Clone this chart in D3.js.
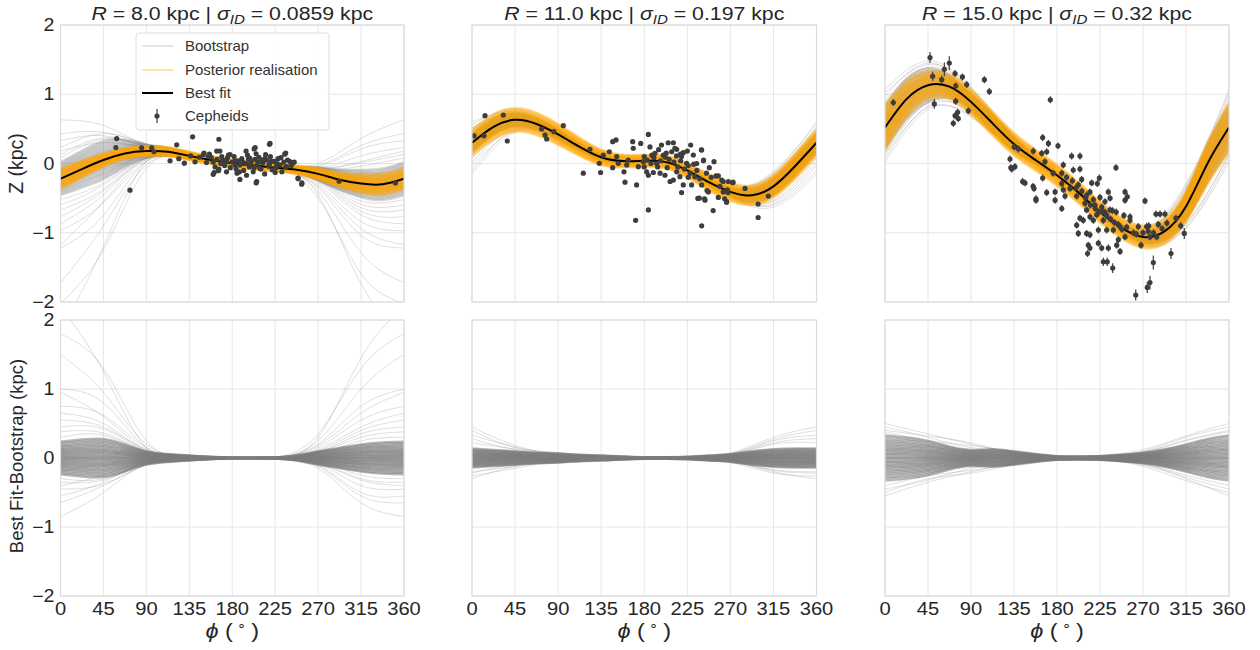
<!DOCTYPE html>
<html>
<head>
<meta charset="utf-8">
<script src="https://cdn.jsdelivr.net/npm/d3@7"></script>
<style>
  body { margin: 0; background: #fff; }
  svg { display: block; font-family: "Liberation Sans", Arial, sans-serif; }
</style>
</head>
<body>
<svg id="chart" width="1260" height="650"></svg>
<script>
// ---- azimuth grids ----
const phiKnots = [0, 22.5, 45, 67.5, 90, 112.5, 135, 157.5, 180, 202.5, 225, 247.5, 270, 292.5, 315, 337.5, 360];
const phiCoarse = [0, 45, 90, 135, 180, 225, 270, 315, 360];
const phiTicks = [0, 45, 90, 135, 180, 225, 270, 315, 360];
const zTicks = [-2, -1, 0, 1, 2];

// ---- ring radius and intrinsic dispersion for each column ----
const radii = ["8.0", "11.0", "15.0"];
const sigmaID = ["0.0859", "0.197", "0.32"];

// ---- best-fit warp Z(phi) in kpc, on phiKnots ----
const bestFit8  = [-0.22, -0.08, 0.05, 0.145, 0.18, 0.17, 0.11, 0.05, 0.005, -0.03, -0.06, -0.09, -0.15, -0.235, -0.29, -0.30, -0.22];
const bestFit11 = [0.30, 0.53, 0.63, 0.57, 0.42, 0.24, 0.09, 0.035, 0.04, 0.02, -0.10, -0.27, -0.41, -0.46, -0.33, -0.04, 0.30];
const bestFit15 = [0.52, 0.93, 1.13, 1.11, 0.89, 0.58, 0.28, 0.05, -0.17, -0.42, -0.70, -0.93, -1.06, -0.98, -0.62, 0.0, 0.52];

// ---- spread of the posterior realisations about the best fit (kpc), on phiKnots ----
const postWidth8  = [0.15, 0.12, 0.09, 0.075, 0.07, 0.065, 0.06, 0.055, 0.055, 0.055, 0.055, 0.06, 0.08, 0.10, 0.13, 0.15, 0.15];
const postWidth11 = [0.19, 0.18, 0.17, 0.16, 0.15, 0.13, 0.11, 0.09, 0.085, 0.09, 0.10, 0.12, 0.13, 0.14, 0.16, 0.18, 0.19];
const postWidth15 = [0.33, 0.26, 0.20, 0.18, 0.18, 0.17, 0.16, 0.15, 0.15, 0.15, 0.15, 0.15, 0.16, 0.18, 0.22, 0.30, 0.36];
const postFractions = [-1, -0.9, -0.8, -0.71, -0.63, -0.56, -0.49, -0.42, -0.35, -0.28, -0.21, -0.14, -0.07, 0,
  0.07, 0.14, 0.21, 0.28, 0.35, 0.42, 0.49, 0.56, 0.63, 0.71, 0.8, 0.9, 1];

// ---- bulk of the bootstrap residuals (best fit - bootstrap), half-width on phiKnots ----
const bootCore8  = [0.24, 0.27, 0.28, 0.20, 0.10, 0.06, 0.04, 0.02, 0.008, 0.008, 0.012, 0.04, 0.10, 0.15, 0.20, 0.23, 0.24];
const bootCore11 = [0.14, 0.12, 0.10, 0.08, 0.07, 0.05, 0.04, 0.025, 0.015, 0.015, 0.02, 0.04, 0.06, 0.10, 0.13, 0.14, 0.14];
const bootCore15 = [0.33, 0.30, 0.25, 0.17, 0.12, 0.13, 0.10, 0.06, 0.03, 0.025, 0.03, 0.05, 0.08, 0.13, 0.20, 0.28, 0.33];
const bootFractions = [-1, -0.92, -0.84, -0.76, -0.69, -0.62, -0.55, -0.48, -0.42, -0.36, -0.3, -0.24, -0.18, -0.12, -0.06, 0,
  0.06, 0.12, 0.18, 0.24, 0.3, 0.36, 0.42, 0.48, 0.55, 0.62, 0.69, 0.76, 0.84, 0.92, 1];

// ---- wider bootstrap residual curves (best fit - bootstrap), on phiCoarse ----
const bootWide8 = [
  [2.2, 1.25, 0.15, 0.01, 0, 0.01, 0.3, 1.45, 2.2],
  [1.8, 1.3, 0.25, 0.02, 0, 0.01, 0.35, 1.3, 1.8],
  [1.5, 0.95, 0.2, 0.02, 0, 0.01, 0.25, 1.0, 1.5],
  [1.0, 0.8, 0.15, 0.02, 0, 0.01, 0.2, 0.75, 1.0],
  [0.95, 0.6, 0.12, 0.01, 0, 0.01, 0.18, 0.65, 0.95],
  [0.75, 0.62, 0.15, 0.02, 0, 0.01, 0.15, 0.55, 0.75],
  [0.65, 0.5, 0.1, 0.01, 0, 0, 0.12, 0.45, 0.65],
  [0.55, 0.45, 0.12, 0.02, 0, 0.01, 0.1, 0.4, 0.55],
  [0.45, 0.42, 0.1, 0.01, 0, 0, 0.08, 0.35, 0.45],
  [0.38, 0.36, 0.1, 0.02, 0, 0.01, 0.08, 0.3, 0.38],
  [0.3, 0.33, 0.09, 0.01, 0, 0, 0.06, 0.25, 0.3],
  [-0.85, -0.5, -0.08, -0.01, 0, -0.01, -0.15, -0.65, -0.85],
  [-0.65, -0.4, -0.1, -0.02, 0, -0.01, -0.12, -0.55, -0.65],
  [-0.55, -0.35, -0.06, -0.01, 0, 0, -0.1, -0.5, -0.55],
  [-0.45, -0.38, -0.1, -0.01, 0, -0.01, -0.08, -0.4, -0.45],
  [-0.4, -0.25, -0.05, -0.01, 0, 0, -0.07, -0.32, -0.4],
  [-0.35, -0.32, -0.08, -0.01, 0, 0, -0.06, -0.3, -0.35],
  [-0.3, -0.3, -0.07, -0.01, 0, 0, -0.05, -0.25, -0.3]
];
const bootWide11 = [
  [0.45, 0.18, 0.06, 0.02, 0, 0.01, 0.07, 0.3, 0.45],
  [0.4, 0.15, 0.08, 0.02, 0, 0.01, 0.06, 0.27, 0.4],
  [0.33, 0.16, 0.05, 0.01, 0, 0.01, 0.05, 0.25, 0.33],
  [0.28, 0.12, 0.06, 0.02, 0, 0.01, 0.05, 0.22, 0.28],
  [0.22, 0.13, 0.05, 0.01, 0, 0, 0.04, 0.2, 0.22],
  [-0.3, -0.12, -0.06, -0.02, 0, -0.01, -0.05, -0.2, -0.3],
  [-0.26, -0.15, -0.05, -0.02, 0, -0.01, -0.06, -0.22, -0.26],
  [-0.22, -0.1, -0.07, -0.01, 0, 0, -0.04, -0.18, -0.22],
  [-0.2, -0.12, -0.04, -0.01, 0, 0, -0.05, -0.17, -0.2]
];
const bootWide15 = [
  [0.5, 0.35, 0.2, 0.08, 0.02, 0.04, 0.12, 0.32, 0.5],
  [0.45, 0.3, 0.15, 0.1, 0.03, 0.03, 0.1, 0.3, 0.45],
  [0.4, 0.32, 0.22, 0.07, 0.02, 0.03, 0.09, 0.26, 0.4],
  [0.38, 0.25, 0.18, 0.09, 0.02, 0.02, 0.08, 0.25, 0.38],
  [-0.55, -0.35, -0.2, -0.08, -0.02, -0.03, -0.1, -0.3, -0.55],
  [-0.5, -0.3, -0.22, -0.1, -0.03, -0.03, -0.12, -0.33, -0.5],
  [-0.45, -0.32, -0.15, -0.07, -0.02, -0.02, -0.08, -0.28, -0.45],
  [-0.4, -0.26, -0.18, -0.09, -0.02, -0.02, -0.09, -0.25, -0.4]
];

// ---- Cepheids: [phi (deg), Z (kpc), optional error (kpc)] ----
const cepheids8 = [
  [58.9, 0.36], [58, 0.23], [72.8, -0.385], [85, 0.226], [95.6, 0.226], [98, 0.17], [114.8, 0.04],
  [121.8, 0.27], [124, 0.07], [129.8, 0.005], [136.4, 0.11], [138.5, 0.385], [141, 0.024], [145.5, 0.09],
  [150.4, 0.15], [153, 0.014], [156, 0.135], [161, -0.13], [166, 0.35], [165.5, -0.105], [167, 0.18],
  [219.6, 0.29], [205.6, -0.26], [188, -0.23], [204, 0.23], [235, 0.135], [244, 0.014], [249, -0.21],
  [253, -0.28], [292, -0.255], [351, -0.28], [149.7, 0.13], [155, 0.1], [160, -0.156], [163.7, 0.18],
  [169, 0.1], [174, 0.026], [177.7, 0.13], [183, -0.02], [187.5, -0.12], [194.5, 0.18], [198.6, 0.075],
  [203, 0.21], [205, -0.28], [209, -0.07], [214.4, 0.075], [219, 0.277], [221, 0.036], [226.6, -0.02],
  [231, 0.084], [236, 0.15], [237, -0.046], [240.6, 0.026], [249, -0.22], [252.8, -0.3],
  [170, 0.05], [172, -0.03], [175, 0.08], [178, -0.06], [180, 0.02], [182, 0.1], [184, -0.08], [186, 0.04],
  [188, -0.02], [190, 0.07], [192, -0.1], [194, 0.0], [196, 0.12], [198, -0.05], [200, 0.03], [202, -0.12],
  [204, 0.06], [206, -0.02], [208, 0.09], [210, -0.08], [212, 0.01], [214, -0.15], [216, 0.05], [218, -0.04],
  [220, 0.1], [222, -0.09], [224, 0.03], [226, -0.06], [228, 0.07], [230, -0.02], [232, -0.12], [234, 0.02],
  [236, -0.05], [238, 0.05], [242, -0.03], [245, 0.02], [160, 0.02], [162, -0.05], [158, 0.09], [164, 0.06],
  [166, -0.08], [168, 0.0], [174, -0.12], [176, 0.12], [185, -0.14], [195, -0.17], [205, 0.14], [215, 0.13],
  [225, -0.13], [197, 0.06], [203, -0.06], [211, 0.05], [219, -0.01], [227, 0.0], [183, 0.04], [191, 0.02],
  [199, -0.01], [207, 0.02]
];
const cepheids11 = [
  [2.1, 0.40], [13.6, 0.69], [12.5, 0.40], [32.7, 0.70], [36.9, 0.325], [72.8, 0.50], [76.3, 0.41],
  [78, 0.354], [85.6, 0.46], [95.4, 0.546], [123.3, 0.205], [116.3, -0.14], [134.4, -0.13], [133, 0.003],
  [137.2, 0.12], [143.5, 0.17], [147, 0.315], [150.5, 0.34], [151.2, 0.1], [147, -0.06], [152.9, 0.003],
  [159.9, -0.27], [158.8, -0.12], [161.7, -0.02], [163.3, 0.05], [167.9, 0.315], [168.5, 0.22], [171, -0.82],
  [172, -0.31], [173.8, -0.046], [176.3, 0.29], [179, 0.026], [184.3, -0.17], [184.3, -0.67],
  [184.3, 0.42], [186, 0.24], [191.2, 0.147], [193, 0.003], [198, 0.267], [199.9, 0.12], [205, 0.30],
  [210.4, 0.30], [208.7, 0.17], [213.9, 0.205], [219, 0.1], [220.8, 0.156], [228.5, 0.267], [231.3, 0.123],
  [234.8, 0], [240, 0.195], [241.8, 0.04], [252.9, 0.026], [255, -0.18], [261, -0.24], [267.8, -0.26],
  [272.4, -0.277], [285.3, -0.36], [309.6, -0.47], [299, -0.585], [299, -0.78], [252, -0.68], [240, -0.9],
  [219, -0.42], [229.5, -0.31], [237.5, -0.50], [243.5, -0.53], [247, -0.41], [257.4, -0.49], [266, -0.55],
  [266.8, -0.38], [210.4, -0.24], [207, -0.26], [201.7, -0.17], [196.5, -0.14], [189.5, -0.13], [182.5, -0.12],
  [213.9, -0.12], [224.3, 0.003], [228, -0.14], [233, -0.19], [245, -0.14], [259, -0.33], [262.6, -0.41],
  [240, -0.31], [220.8, -0.31], [217.3, -0.19], [213.6, 0.11], [217.8, 0.135], [231.7, -0.01], [239.7, 0.197],
  [242, 0.05], [257.4, -0.18], [262.4, -0.26], [267.6, -0.42], [272.8, -0.27], [236, -0.505], [243, -0.51],
  [245.6, -0.39], [264, -0.51], [266, -0.56], [180, 0.1], [183, 0.05], [187, 0.0], [190, 0.08], [194, -0.05],
  [197, 0.04], [202, 0.09], [204, -0.06], [206, 0.06], [211, 0.02], [215, -0.05], [218, 0.04], [222, -0.08],
  [226, -0.03], [180, -0.05], [188, 0.12], [195, 0.2], [203, 0.15], [212, 0.22], [225, 0.18], [235, -0.1],
  [248, -0.06], [250, -0.2], [238, -0.22], [226, -0.2]
];
const cepheids15 = [
  [8.7, 0.88], [47.1, 1.53, 0.08], [49.9, 1.26, 0.07], [51.6, 0.86, 0.07], [59.3, 1.21, 0.06],
  [62.1, 1.36, 0.1], [67.3, 1.45, 0.1], [73.3, 1.30], [74, 1.12], [74, 0.90], [81, 1.25], [85.5, 1.14],
  [76, 0.74], [73.3, 0.69], [76.7, 0.65], [71.5, 0.58], [87.2, 0.76], [104, 1.21], [109.2, 1.04],
  [135.3, 0.24], [139.5, 0.21], [130.8, 0.065], [155.2, 0.18], [173, 0.92], [131.7, -0.06], [144, -0.26],
  [155, -0.33], [158, -0.51], [165, 0.375], [171, 0.29], [181, 0.255], [136, -0.046], [132.6, -0.08],
  [164, 0.147], [169.2, 0.17], [167.4, 0.026], [165, -0.21], [146.5, -0.28], [155.9, -0.36], [158, -0.53],
  [169.2, -0.42], [176, -0.14], [178, -0.53], [185, -0.14], [186.6, -0.02], [195.3, 0.108], [204, 0.108],
  [197, -0.094], [204, -0.08], [205.8, -0.23], [202.3, -0.31], [193.6, -0.36], [188.4, -0.47], [185, -0.65],
  [200.6, -0.47], [211, -0.455], [216.3, -0.28], [222.2, -0.29], [224.3, -0.21], [214.5, -0.41], [218, -0.52],
  [225, -0.49], [226.8, -0.63], [233.7, -0.41], [241.7, -0.06], [235.5, -0.67], [230.2, -0.70], [221.5, -0.74],
  [214.5, -0.77], [207.5, -0.82], [204, -0.79], [200.6, -0.89], [202.3, -1.01], [211, -1.01], [214.5, -1.03],
  [212.8, -1.18], [214.5, -1.22], [212, -1.30], [223.3, -1.15], [226.8, -1.22], [228.5, -1.42, 0.06],
  [232.6, -1.42, 0.06], [233.7, -1.22], [238.3, -1.51, 0.07], [242.5, -1.18], [244.2, -1.10], [246, -1.27],
  [239, -0.96], [246, -0.91], [251.2, -0.53], [251.2, -0.41], [253.6, -0.48], [256.4, -0.77], [252.9, -0.92],
  [251.2, -1.06], [265.1, -0.91], [256.4, -0.82], [267.9, -1.18], [272.1, -0.54], [273.8, -0.91], [275.5, -0.98],
  [277.3, -1.06], [280.8, -1.43, 0.1], [284.3, -1.06], [283.6, -0.73], [287.8, -0.73], [293, -0.73],
  [277.3, -1.72, 0.1], [274.5, -1.79, 0.08], [262.4, -1.90, 0.08], [299.3, -1.30, 0.08], [304.5, -0.79],
  [309.5, -0.90], [313.2, -1.01, 0.08], [211, -0.67], [218, -0.82], [228.5, -0.82], [232, -0.96],
  [223.3, -0.96], [209.3, -0.575], [219.8, -0.60], [230.2, -0.55], [235.5, -0.50], [178, -0.41], [186.6, -0.38],
  [185, -0.29], [190, -0.2], [196, -0.25], [200, -0.35], [206, -0.4], [210, -0.5], [215, -0.6], [220, -0.65],
  [224, -0.7], [228, -0.7], [232, -0.75], [236, -0.8], [240, -0.85], [244, -0.88], [248, -0.95], [250, -0.75],
  [238, -0.68], [242, -0.7], [260, -1.0], [263, -1.02], [270, -1.0], [276, -0.9], [281, -1.0], [286, -0.88],
  [290, -0.94], [295, -0.86]
];

// ---- layout ----
const colX = [[60.5, 404], [472, 816.5], [885, 1229]];
const rowY = [[25, 302], [320, 596]];
const textColor = "#262626";
const textStretch = 1.12;   // horizontal widening of the tick and title lettering

const panels = [
  { best: bestFit8,  post: postWidth8,  core: bootCore8,  wide: bootWide8,  pts: cepheids8,  err: 0.02 },
  { best: bestFit11, post: postWidth11, core: bootCore11, wide: bootWide11, pts: cepheids11, err: 0.02 },
  { best: bestFit15, post: postWidth15, core: bootCore15, wide: bootWide15, pts: cepheids15, err: 0.05 }
];

const svg = d3.select("#chart");
const defs = svg.append("defs");
const fmt = v => (v < 0 ? "\u2212" + Math.abs(v) : String(v));
const placed = (sel, px, py) => sel.attr("transform", `translate(${px},${py}) scale(${textStretch},1)`);

panels.forEach((p, i) => {
  const x = d3.scaleLinear().domain([0, 360]).range(colX[i]);
  const coarseBest = phiCoarse.map(ph => p.best[phiKnots.indexOf(ph)]);

  [0, 1].forEach(r => {
    const y = d3.scaleLinear().domain([-2, 2]).range([rowY[r][1], rowY[r][0]]);
    const id = `clip-${i}-${r}`;
    defs.append("clipPath").attr("id", id).append("rect")
      .attr("x", colX[i][0]).attr("y", rowY[r][0])
      .attr("width", colX[i][1] - colX[i][0]).attr("height", rowY[r][1] - rowY[r][0]);

    const g = svg.append("g");
    // grid
    g.append("g").selectAll("line").data(phiTicks).join("line")
      .attr("x1", d => x(d)).attr("x2", d => x(d))
      .attr("y1", rowY[r][0]).attr("y2", rowY[r][1])
      .attr("stroke", "#e6e6e6").attr("stroke-width", 1);
    g.append("g").selectAll("line").data(zTicks).join("line")
      .attr("x1", colX[i][0]).attr("x2", colX[i][1])
      .attr("y1", d => y(d)).attr("y2", d => y(d))
      .attr("stroke", "#e6e6e6").attr("stroke-width", 1);

    const plot = g.append("g").attr("clip-path", `url(#${id})`);
    const line = d3.line().x(d => x(d[0])).y(d => y(d[1])).curve(d3.curveNatural);

    // bootstrap curves: top row shows the bootstrap fits, bottom row their residuals
    const coreCurves = bootFractions.map(f => phiKnots.map((ph, k) =>
      [ph, r === 0 ? p.best[k] - f * p.core[k] : f * p.core[k]]));
    const wideCurves = p.wide.map(c => phiCoarse.map((ph, k) =>
      [ph, r === 0 ? coarseBest[k] - c[k] : c[k]]));

    plot.append("g").selectAll("path").data(wideCurves).join("path")
      .attr("d", line).attr("fill", "none")
      .attr("stroke", "#8c8c8c").attr("stroke-opacity", 0.28).attr("stroke-width", 1);
    plot.append("g").selectAll("path").data(coreCurves).join("path")
      .attr("d", line).attr("fill", "none")
      .attr("stroke", "#7c7c7c").attr("stroke-opacity", r === 0 ? 0.3 : 0.55).attr("stroke-width", 2);

    if (r === 0) {
      // posterior realisations
      const postCurves = postFractions.map(f => phiKnots.map((ph, k) => [ph, p.best[k] + f * p.post[k]]));
      plot.append("g").selectAll("path").data(postCurves).join("path")
        .attr("d", line).attr("fill", "none")
        .attr("stroke", "#ffa500").attr("stroke-opacity", 0.38).attr("stroke-width", 2.6);
      // best fit
      plot.append("path").datum(phiKnots.map((ph, k) => [ph, p.best[k]]))
        .attr("d", line).attr("fill", "none").attr("stroke", "#000").attr("stroke-width", 2);
      // Cepheids with error bars
      const pg = plot.append("g");
      pg.selectAll("line").data(p.pts).join("line")
        .attr("x1", d => x(d[0])).attr("x2", d => x(d[0]))
        .attr("y1", d => y(d[1] - (d[2] || p.err))).attr("y2", d => y(d[1] + (d[2] || p.err)))
        .attr("stroke", "#3d3d3d").attr("stroke-width", 1.2);
      pg.selectAll("circle").data(p.pts).join("circle")
        .attr("cx", d => x(d[0])).attr("cy", d => y(d[1])).attr("r", 2.6)
        .attr("fill", "#3d3d3d");

      // title
      const t = svg.append("text")
        .attr("text-anchor", "middle").attr("font-size", 19).attr("fill", textColor);
      placed(t, (colX[i][0] + colX[i][1]) / 2, 20);
      t.append("tspan").attr("font-style", "italic").text("R");
      t.append("tspan").text(` = ${radii[i]} kpc | `);
      t.append("tspan").attr("font-style", "italic").text("\u03c3");
      t.append("tspan").attr("font-style", "italic").attr("font-size", 13.5).attr("dy", 4).text("ID");
      t.append("tspan").attr("dy", -4).text(` = ${sigmaID[i]} kpc`);
    }

    // frame
    g.append("rect")
      .attr("x", colX[i][0]).attr("y", rowY[r][0])
      .attr("width", colX[i][1] - colX[i][0]).attr("height", rowY[r][1] - rowY[r][0])
      .attr("fill", "none").attr("stroke", "#dcdcdc").attr("stroke-width", 1.2);

    // y tick labels only on the first column
    if (i === 0) {
      g.append("g").selectAll("text").data(zTicks).join("text")
        .attr("text-anchor", "end").attr("font-size", 17.5).attr("fill", textColor)
        .each(function (d) { placed(d3.select(this), colX[i][0] - 6, y(d) + 6); })
        .text(fmt);
    }
    // x tick labels and axis label only on the bottom row
    if (r === 1) {
      g.append("g").selectAll("text").data(phiTicks).join("text")
        .attr("text-anchor", "middle").attr("font-size", 18).attr("fill", textColor)
        .each(function (d) { placed(d3.select(this), x(d), rowY[r][1] + 19); })
        .text(d => String(d));
      const xl = g.append("text")
        .attr("text-anchor", "middle").attr("font-size", 21).attr("fill", textColor);
      placed(xl, (colX[i][0] + colX[i][1]) / 2, 638);
      xl.append("tspan").attr("font-style", "italic").text("\u03d5");
      xl.append("tspan").text(" (");
      xl.append("tspan").attr("font-size", 13).attr("dx", 4).attr("dy", -9).text("\u2218");
      xl.append("tspan").attr("dx", 4).attr("dy", 9).text(")");
    }
  });
});

// y axis labels
svg.append("text")
  .attr("transform", `translate(23,${(rowY[0][0] + rowY[0][1]) / 2}) rotate(-90)`)
  .attr("text-anchor", "middle").attr("font-size", 19.5).attr("fill", textColor)
  .text("Z (kpc)");
svg.append("text")
  .attr("transform", `translate(23,${(rowY[1][0] + rowY[1][1]) / 2 - 2}) rotate(-90)`)
  .attr("text-anchor", "middle").attr("font-size", 18.5).attr("fill", textColor)
  .text("Best Fit-Bootstrap (kpc)");

// legend in the first panel
const legend = svg.append("g");
legend.append("rect")
  .attr("x", 136).attr("y", 33).attr("width", 193).attr("height", 97).attr("rx", 3)
  .attr("fill", "#fff").attr("fill-opacity", 0.85).attr("stroke", "#dedede");
const legendItems = ["Bootstrap", "Posterior realisation", "Best fit", "Cepheids"];
const legendY = [46, 70, 93, 116];
legendItems.forEach((label, k) => {
  const ly = legendY[k];
  if (k === 0) legend.append("line").attr("x1", 142).attr("x2", 173).attr("y1", ly).attr("y2", ly)
    .attr("stroke", "#8c8c8c").attr("stroke-opacity", 0.3).attr("stroke-width", 1.5);
  if (k === 1) legend.append("line").attr("x1", 142).attr("x2", 173).attr("y1", ly).attr("y2", ly)
    .attr("stroke", "#ffa500").attr("stroke-opacity", 0.3).attr("stroke-width", 2.2);
  if (k === 2) legend.append("line").attr("x1", 142).attr("x2", 173).attr("y1", ly).attr("y2", ly)
    .attr("stroke", "#000").attr("stroke-width", 2);
  if (k === 3) {
    legend.append("line").attr("x1", 157).attr("x2", 157).attr("y1", ly - 7).attr("y2", ly + 7)
      .attr("stroke", "#3d3d3d").attr("stroke-width", 1.2);
    legend.append("circle").attr("cx", 157).attr("cy", ly).attr("r", 2.6).attr("fill", "#3d3d3d");
  }
  legend.append("text").attr("x", 185).attr("y", ly + 5)
    .attr("font-size", 15).attr("fill", "#333").text(label);
});
</script>
</body>
</html>
